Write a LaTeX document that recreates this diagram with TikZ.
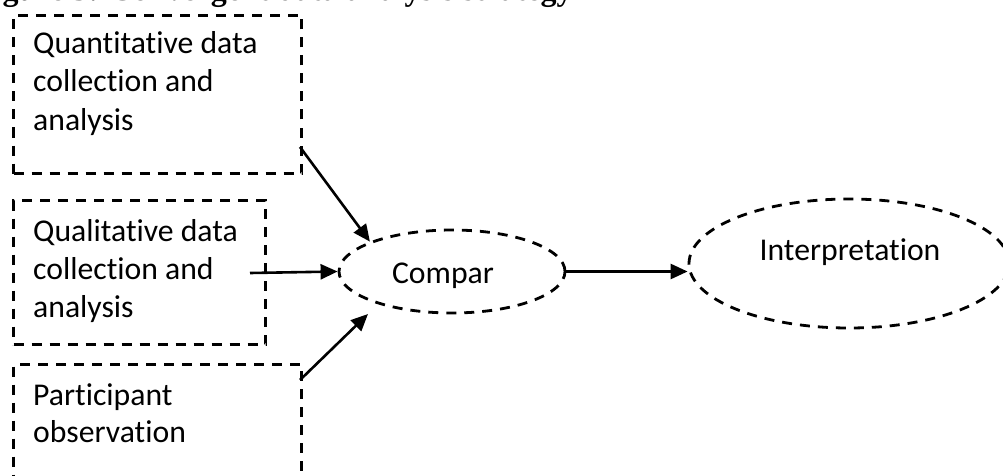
\documentclass[tikz,border=0pt]{standalone}
\usepackage{fontspec}
\setmainfont{Carlito}[Ligatures={NoCommon}]
\newfontfamily\titlefont{Liberation Serif}
\usetikzlibrary{shapes.geometric,arrows.meta}
\begin{document}
\begin{tikzpicture}[x=1pt,y=-1pt,
  dashbox/.style={draw,line width=3pt,dash pattern=on 10pt off 8pt,minimum width=#1,inner sep=0pt,anchor=north west},
  dashell/.style={draw,ellipse,line width=2.8pt,dash pattern=on 10pt off 8pt,inner sep=0pt},
  lbl/.style={font=\fontsize{31.7}{37.7}\selectfont,inner sep=0pt,align=left},
  arr/.style={line width=2.6pt,-{Triangle[length=17pt,width=15pt]}}]
\useasboundingbox (0,0) rectangle (1003,476);
\clip (0,0) rectangle (1003,476);
\node[inner sep=0pt,anchor=base west,font=\titlefont\bfseries\fontsize{32}{36}\selectfont] (title) at (-26,0.5) {Figure 3: Convergent data analysis strategy};
% boxes
\node[dashbox=288pt,minimum height=158pt] (qn) at (12,14) {};
\node[dashbox=252pt,minimum height=144pt] (ql) at (12,199) {};
\node[dashbox=288pt,minimum height=160pt] (po) at (12,363) {};
\node[lbl,anchor=base west] (tqn) at (33,54) {Quantitative data};
\node[lbl,anchor=base west] (tqn2) at (33,92) {collection and};
\node[lbl,anchor=base west] (tqn3) at (33,130) {analysis};
\node[lbl,anchor=base west] (tql) at (33,241) {Qualitative data};
\node[lbl,anchor=base west] (tql2) at (33,279) {collection and};
\node[lbl,anchor=base west] (tql3) at (33,317) {analysis};
\node[lbl,anchor=base west] (tpo) at (33,405) {Participant};
\node[lbl,anchor=base west] (tpo2) at (33,442) {observation};
% ellipses
\node[dashell,minimum width=226pt,minimum height=83pt] (cmp) at (452,271.5) {};
\node[lbl,anchor=base] (tcmp) at (443,283) {Compar};
\node[dashell,minimum width=320pt,minimum height=129pt] (int) at (849,263.5) {};
\node[lbl,anchor=base] (tint) at (850,260) {Interpretation};
% connectors
\coordinate (s1) at (300,147);
\coordinate (s2) at (250,273);
\coordinate (s3) at (300,380);
\coordinate (e3) at (368,314);
\draw[arr] (s1) -- (cmp.160.6);
\draw[arr] (s2) -- (cmp.west);
\draw[arr] (s3) -- (e3);
\draw[arr] (cmp.east) -- (int.west |- cmp.east);
\end{tikzpicture}
\end{document}
